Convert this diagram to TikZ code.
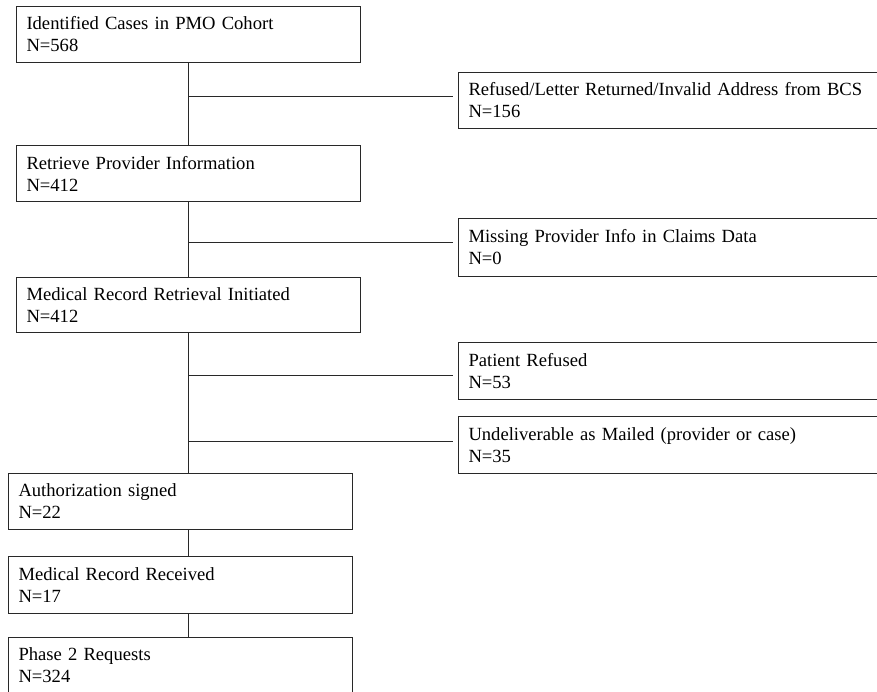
\documentclass[tikz,border=0pt]{standalone}
\usepackage{fontspec}
\setmainfont{Liberation Serif}
\usepackage{tikz}
\usetikzlibrary{positioning, calc}
\definecolor{boxline}{RGB}{40,40,40}

\tikzset{
    stagebox/.style={draw=boxline, line width=1pt, rectangle, anchor=north west,
        align=left, inner xsep=10pt, inner ysep=0pt,
        text width=324pt, minimum height=56pt,
        font=\fontsize{18.6}{22}\selectfont},
    dropbox/.style={stagebox, text width=430pt},
    link/.style={draw=boxline, line width=1pt}
}

\begin{document}
\begin{tikzpicture}[x=1pt, y=-1pt]
    \useasboundingbox (0,0) rectangle (877,692);

    % Main stages
    \node[stagebox] (cohort) at (16,6) {Identified Cases in PMO Cohort\\N=568};
    \node[stagebox] (provider) at (16,145) {Retrieve Provider Information\\N=412};
    \node[stagebox, minimum height=55pt] (retrieval) at (16,277) {Medical Record Retrieval Initiated\\N=412};
    \node[stagebox] (auth) at (8,473) {Authorization signed\\N=22};
    \node[stagebox, minimum height=57pt] (received) at (8,556) {Medical Record Received\\N=17};
    \node[stagebox] (phase) at (8,637) {Phase 2 Requests\\N=324};

    % Exclusions
    \node[dropbox] (refused) at (458,72) {Refused/Letter Returned/Invalid Address from BCS\\N=156};
    \node[dropbox, minimum height=58pt] (missing) at (458,218) {Missing Provider Info in Claims Data\\N=0};
    \node[dropbox, minimum height=57pt] (patient) at (458,342) {Patient Refused\\N=53};
    \node[dropbox, minimum height=57pt] (undeliv) at (458,416) {Undeliverable as Mailed (provider or case)\\N=35};

    % Trunk
    \draw[link] (cohort.south) -- (provider.north);
    \draw[link] (provider.south) -- (retrieval.north);
    \draw[link] (retrieval.south) -- (retrieval.south |- auth.north);
    \draw[link] (retrieval.south |- auth.south) -- (retrieval.south |- received.north);
    \draw[link] (retrieval.south |- received.south) -- (retrieval.south |- phase.north);

    % Branches
    \coordinate (b1) at (188,97);
    \coordinate (b2) at (188,243);
    \coordinate (b3) at (188,375);
    \coordinate (b4) at (188,441);
    \draw[link] (b1) -- ([xshift=-5pt]b1 -| refused.west);
    \draw[link] (b2) -- ([xshift=-5pt]b2 -| missing.west);
    \draw[link] (b3) -- ([xshift=-5pt]b3 -| patient.west);
    \draw[link] (b4) -- ([xshift=-5pt]b4 -| undeliv.west);
\end{tikzpicture}
\end{document}
